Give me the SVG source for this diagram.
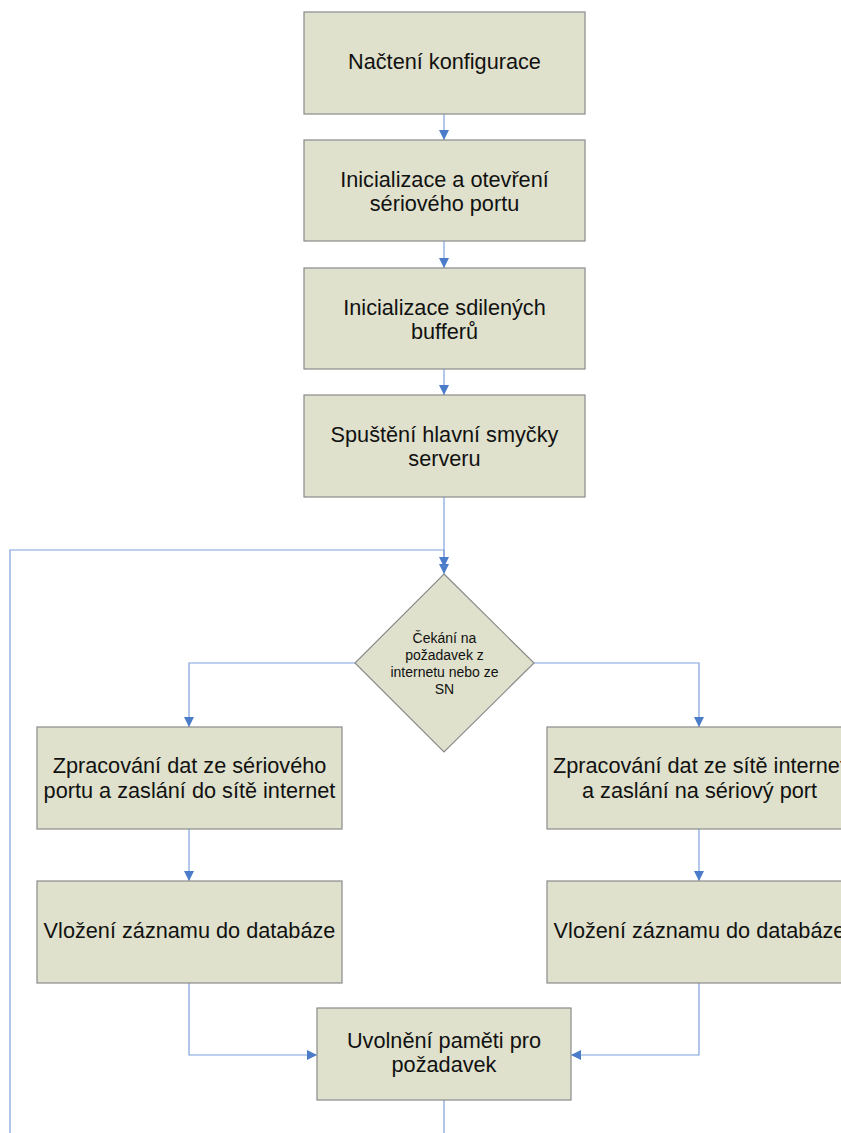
<svg xmlns="http://www.w3.org/2000/svg" width="841" height="1133" viewBox="0 0 841 1133">
<style>
.box{fill:#dfe1cc;stroke:#8a8a8a;stroke-width:1.2}
.t{font-family:"Liberation Sans",Arial,sans-serif;font-size:21.7px;fill:#111;text-anchor:middle}
.s{font-family:"Liberation Sans",Arial,sans-serif;font-size:14px;fill:#111;text-anchor:middle}
.c{fill:none;stroke:#7fa2db;stroke-width:1.2}
</style>
<defs>
<marker id="a" markerUnits="userSpaceOnUse" markerWidth="10" markerHeight="10" viewBox="0 0 10 10" refX="10" refY="5" orient="auto">
<path d="M0,0 L10,5 L0,10 z" fill="#4a7cc9"/>
</marker>
</defs>
<rect width="841" height="1133" fill="#fff"/>
<g id="connectors">
<path class="c" d="M444,114 V140" marker-end="url(#a)"/>
<path class="c" d="M444,241 V268" marker-end="url(#a)"/>
<path class="c" d="M444,369 V395" marker-end="url(#a)"/>
<path class="c" d="M444,497 V574" marker-end="url(#a)"/>
<path class="c" d="M444,1100 V1140 M10,1140 V550 H444 V567" marker-end="url(#a)"/>
<path class="c" d="M355,663 H189 V727" marker-end="url(#a)"/>
<path class="c" d="M534,663 H699 V727" marker-end="url(#a)"/>
<path class="c" d="M189,829 V881" marker-end="url(#a)"/>
<path class="c" d="M699,829 V881" marker-end="url(#a)"/>
<path class="c" d="M189,983 V1055 H317" marker-end="url(#a)"/>
<path class="c" d="M699,983 V1055 H571" marker-end="url(#a)"/>
</g>
<g id="n1"><rect class="box" x="304" y="12" width="281" height="102"/><text class="t" x="444.5" y="69">Načtení konfigurace</text></g>
<g id="n2"><rect class="box" x="304" y="140" width="281" height="101"/><text class="t" x="444.5" y="187">Inicializace a otevření</text><text class="t" x="444.5" y="211">sériového portu</text></g>
<g id="n3"><rect class="box" x="304" y="268" width="281" height="101"/><text class="t" x="444.5" y="315">Inicializace sdilených</text><text class="t" x="444.5" y="339">bufferů</text></g>
<g id="n4"><rect class="box" x="304" y="395" width="281" height="102"/><text class="t" x="444.5" y="442">Spuštění hlavní smyčky</text><text class="t" x="444.5" y="466">serveru</text></g>
<g id="d1"><path class="box" d="M444,574 L534,663 L444,752 L355,663 Z"/><text class="s" x="444.5" y="643">Čekání na</text><text class="s" x="444.5" y="660">požadavek z</text><text class="s" x="444.5" y="677">internetu nebo ze</text><text class="s" x="444.5" y="694">SN</text></g>
<g id="n5"><rect class="box" x="37" y="727" width="305" height="102"/><text class="t" x="189.5" y="773">Zpracování dat ze sériového</text><text class="t" x="189.5" y="798">portu a zaslání do sítě internet</text></g>
<g id="n6"><rect class="box" x="547" y="727" width="305" height="102"/><text class="t" x="699.5" y="773">Zpracování dat ze sítě internet</text><text class="t" x="699.5" y="798">a zaslání na sériový port</text></g>
<g id="n7"><rect class="box" x="37" y="881" width="305" height="102"/><text class="t" x="189.5" y="938">Vložení záznamu do databáze</text></g>
<g id="n8"><rect class="box" x="547" y="881" width="305" height="102"/><text class="t" x="699.5" y="938">Vložení záznamu do databáze</text></g>
<g id="n9"><rect class="box" x="317" y="1008" width="254" height="92"/><text class="t" x="444" y="1048">Uvolnění paměti pro</text><text class="t" x="444" y="1072">požadavek</text></g>
</svg>
